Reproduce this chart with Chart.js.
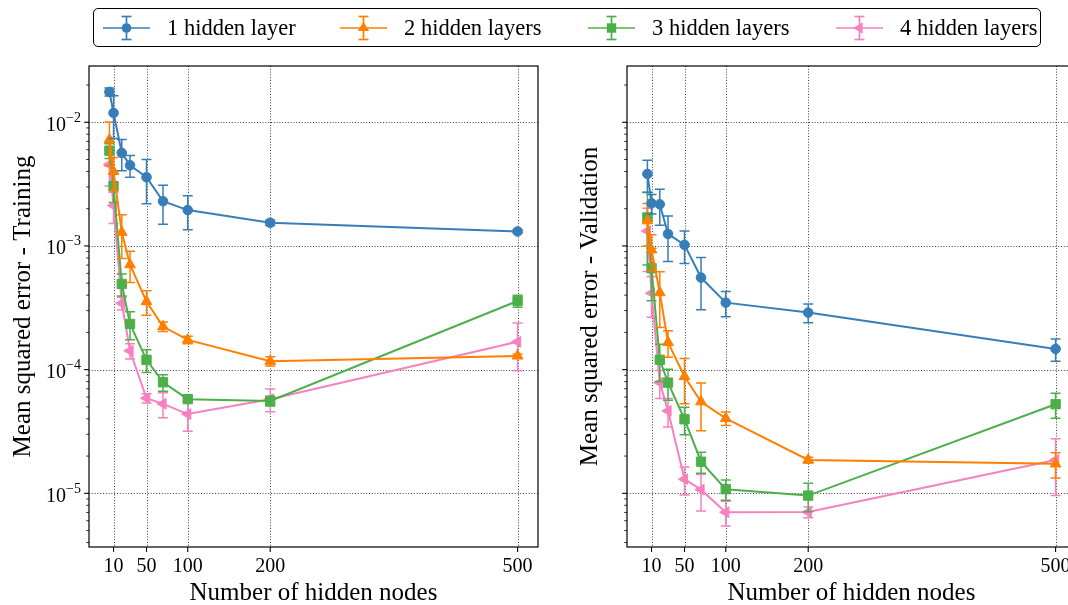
<!DOCTYPE html>
<html>
<head>
<meta charset="utf-8">
<script src="https://cdn.jsdelivr.net/npm/chart.js@4.4.0/dist/chart.umd.min.js"></script>
<style>
  html, body { margin: 0; padding: 0; background: #fff; overflow: hidden; }
  #wrap { position: relative; width: 1068px; height: 605px; overflow: hidden; }
  canvas { position: absolute; top: 0; }
  #trainCanvas { left: 0; }
  #valCanvas { left: 560px; }
  #legend {
    position: absolute; left: 93px; top: 8px; width: 946px; height: 37px;
    border: 1.3px solid #000; border-radius: 5px; background: #fff;
    font-family: "Liberation Serif", serif; font-size: 22.5px; color: #000;
  }
  .item { position: absolute; top: 0; height: 37px; display: flex; align-items: center; white-space: nowrap; }
  .item svg { margin-right: 17px; }
</style>
</head>
<body>
<div id="wrap">
  <canvas id="trainCanvas" width="560" height="605"></canvas>
  <canvas id="valCanvas" width="560" height="605"></canvas>
  <div id="legend"></div>
</div>
<script>
// number of hidden nodes per run
var hiddenNodes = [5, 10, 20, 30, 50, 70, 100, 200, 500];
var xTicks = [10, 50, 100, 200, 500];
var seriesNames = ["1 hidden layer", "2 hidden layers", "3 hidden layers", "4 hidden layers"];

// training MSE (mean) and standard deviation
var trainMse1 = [0.0176, 0.0119, 0.00565, 0.00449, 0.00359, 0.0023, 0.00195, 0.00154, 0.00131];
var trainErr1 = [0.0013, 0.0045, 0.0016, 0.0009, 0.0014, 0.0008, 0.0006, 0.00008, 0.00004];
var trainMse2 = [0.00723, 0.0040, 0.00129, 0.000706, 0.000355, 0.000223, 0.000174, 0.000117, 0.000129];
var trainErr2 = [0.0028, 0.0012, 0.0005, 0.0002, 0.00008, 0.00002, 0.000012, 0.00001, 0.000005];
var trainMse3 = [0.00589, 0.00304, 0.000493, 0.000234, 0.00012, 0.000079, 0.0000577, 0.0000558, 0.000359];
var trainErr3 = [0.0008, 0.0008, 0.0001, 0.00006, 0.000025, 0.000012, 0.000002, 0.000005, 0.00004];
var trainMse4 = [0.00455, 0.00212, 0.000344, 0.000142, 0.0000587, 0.0000529, 0.0000437, 0.0000577, 0.000168];
var trainErr4 = [0.0015, 0.0006, 0.00004, 0.00002, 0.000005, 0.000012, 0.000012, 0.000012, 0.00007];

// validation MSE (mean) and standard deviation
var valMse1 = [0.00382, 0.00221, 0.00217, 0.00125, 0.00102, 0.000555, 0.000348, 0.000289, 0.000147];
var valErr1 = [0.0011, 0.0004, 0.0007, 0.0005, 0.0003, 0.00025, 0.00008, 0.00005, 0.00003];
var valMse2 = [0.0016, 0.00093, 0.000419, 0.000166, 0.000088, 0.000055, 0.0000404, 0.0000186, 0.0000173];
var valErr2 = [0.0006, 0.0003, 0.0002, 0.00004, 0.000035, 0.000023, 0.000005, 0.000001, 0.000004];
var valMse3 = [0.0017, 0.00066, 0.00012, 0.0000785, 0.0000397, 0.000018, 0.0000108, 0.00000958, 0.0000525];
var valErr3 = [0.001, 0.0003, 0.00004, 0.000022, 0.00001, 0.0000035, 0.000002, 0.0000025, 0.000012];
var valMse4 = [0.00132, 0.000415, 0.0000785, 0.0000464, 0.000013, 0.0000107, 0.00000703, 0.00000705, 0.0000186];
var valErr4 = [0.0007, 0.00015, 0.00002, 0.000012, 0.0000033, 0.0000035, 0.0000016, 0.0000007, 0.000009];

var colors = ["#377eb8", "#ff7f00", "#4daf4a", "#f781bf"];
var markers = [
  { style: "circle", radius: 4.8, rotation: 0 },
  { style: "triangle", radius: 6.2, rotation: 0 },
  { style: "rect", radius: 6.6, rotation: 0 },
  { style: "triangle", radius: 6.2, rotation: -90 }
];

var X_MIN = -19.75, X_MAX = 524.75;
var Y_MIN = 3.68e-6, Y_MAX = 0.0285;
var FONT = '"Liberation Serif", serif';

// error bars drawn under each dataset's line and markers
var errorBarPlugin = {
  id: "errorBars",
  beforeDatasetDraw: function (chart, args) {
    var ds = chart.data.datasets[args.index];
    if (!ds.errors) return;
    var ctx = chart.ctx, a = chart.chartArea;
    var xs = chart.scales.x, ys = chart.scales.y;
    ctx.save();
    ctx.beginPath();
    ctx.rect(a.left, a.top, a.right - a.left, a.bottom - a.top);
    ctx.clip();
    ctx.strokeStyle = ds.borderColor;
    ctx.lineWidth = 1.5;
    ds.data.forEach(function (p, i) {
      var e = ds.errors[i];
      var px = xs.getPixelForValue(p.x);
      var top = ys.getPixelForValue(p.y + e);
      var low = p.y - e > 0 ? p.y - e : Y_MIN * 0.5;
      var bot = ys.getPixelForValue(low);
      ctx.beginPath();
      ctx.moveTo(px, top); ctx.lineTo(px, bot);
      ctx.moveTo(px - 5, top); ctx.lineTo(px + 5, top);
      ctx.moveTo(px - 5, bot); ctx.lineTo(px + 5, bot);
      ctx.stroke();
    });
    ctx.restore();
  }
};

// dotted grid, frame, ticks and axis texts
var axesPlugin = {
  id: "mplAxes",
  beforeDatasetsDraw: function (chart) {
    var ctx = chart.ctx, a = chart.chartArea;
    var xs = chart.scales.x, ys = chart.scales.y;
    ctx.save();
    ctx.strokeStyle = "rgba(0,0,0,0.85)";
    ctx.lineWidth = 0.9;
    ctx.setLineDash([1, 1.8]);
    xTicks.forEach(function (v) {
      var px = Math.round(xs.getPixelForValue(v)) + 0.5;
      ctx.beginPath(); ctx.moveTo(px, a.top); ctx.lineTo(px, a.bottom); ctx.stroke();
    });
    for (var e = -6; e <= -1; e++) {
      var v = Math.pow(10, e);
      if (v < Y_MIN || v > Y_MAX) continue;
      var py = Math.round(ys.getPixelForValue(v)) + 0.5;
      ctx.beginPath(); ctx.moveTo(a.left, py); ctx.lineTo(a.right, py); ctx.stroke();
    }
    ctx.restore();
  },
  afterDraw: function (chart, args, opts) {
    var ctx = chart.ctx, a = chart.chartArea;
    var xs = chart.scales.x, ys = chart.scales.y;
    ctx.save();
    ctx.strokeStyle = "#000";
    ctx.fillStyle = "#000";
    ctx.lineWidth = 1.2;
    ctx.strokeRect(a.left, a.top, a.right - a.left, a.bottom - a.top);

    // x ticks and labels
    ctx.font = "20px " + FONT;
    ctx.textAlign = "center";
    ctx.textBaseline = "alphabetic";
    ctx.lineWidth = 1.1;
    xTicks.forEach(function (v) {
      var px = xs.getPixelForValue(v);
      ctx.beginPath(); ctx.moveTo(px, a.bottom); ctx.lineTo(px, a.bottom + 4.9); ctx.stroke();
      ctx.fillText(String(v), px, a.bottom + 25);
    });

    // y ticks (major at decades, minor in between)
    for (var e = -7; e <= -1; e++) {
      for (var k = 1; k <= 9; k++) {
        var v = k * Math.pow(10, e);
        if (v < Y_MIN || v > Y_MAX) continue;
        var py = ys.getPixelForValue(v);
        var major = k === 1;
        ctx.lineWidth = major ? 1.1 : 0.8;
        ctx.beginPath(); ctx.moveTo(a.left - (major ? 4.9 : 2.8), py); ctx.lineTo(a.left, py); ctx.stroke();
        if (major && opts.tickLabels) {
          var sup = "\u2212" + Math.abs(e);
          ctx.font = "14px " + FONT;
          var ws = ctx.measureText(sup).width;
          ctx.textAlign = "left";
          ctx.fillText(sup, a.left - 8 - ws, py - 0.5);
          ctx.font = "20px " + FONT;
          ctx.textAlign = "right";
          ctx.fillText("10", a.left - 8 - ws, py + 8.4);
        }
      }
    }

    // axis titles
    ctx.font = "25px " + FONT;
    ctx.textAlign = "center";
    ctx.fillText(opts.xTitle, (a.left + a.right) / 2, a.bottom + 53);
    ctx.translate(a.left - opts.yTitleOffset, (a.top + a.bottom) / 2);
    ctx.rotate(-Math.PI / 2);
    ctx.fillText(opts.yTitle, 0, 0);
    ctx.restore();
  }
};

function buildDatasets(means, errs) {
  return means.map(function (vals, i) {
    return {
      label: seriesNames[i],
      data: hiddenNodes.map(function (n, j) { return { x: n, y: vals[j] }; }),
      errors: errs[i],
      borderColor: colors[i],
      backgroundColor: colors[i],
      borderWidth: 2,
      tension: 0,
      pointStyle: markers[i].style,
      pointRadius: markers[i].radius,
      pointRotation: markers[i].rotation,
      pointBackgroundColor: colors[i],
      pointBorderColor: colors[i],
      pointBorderWidth: 1
    };
  });
}

function makeChart(id, means, errs, padding, axisOpts) {
  var ctx = document.getElementById(id).getContext("2d");
  return new Chart(ctx, {
    type: "line",
    data: { datasets: buildDatasets(means, errs) },
    options: {
      responsive: false,
      animation: false,
      events: [],
      devicePixelRatio: 1,
      layout: { padding: padding },
      scales: {
        x: { type: "linear", min: X_MIN, max: X_MAX, display: false, bounds: "data" },
        y: { type: "logarithmic", min: Y_MIN, max: Y_MAX, display: false, bounds: "data" }
      },
      plugins: {
        legend: { display: false },
        tooltip: { enabled: false },
        mplAxes: axisOpts
      }
    },
    plugins: [errorBarPlugin, axesPlugin]
  });
}

makeChart("trainCanvas",
  [trainMse1, trainMse2, trainMse3, trainMse4],
  [trainErr1, trainErr2, trainErr3, trainErr4],
  { left: 89, right: 22, top: 66, bottom: 58 },
  { xTitle: "Number of hidden nodes", yTitle: "Mean squared error - Training", yTitleOffset: 59.5, tickLabels: true });

makeChart("valCanvas",
  [valMse1, valMse2, valMse3, valMse4],
  [valErr1, valErr2, valErr3, valErr4],
  { left: 67, right: 44, top: 66, bottom: 58 },
  { xTitle: "Number of hidden nodes", yTitle: "Mean squared error - Validation", yTitleOffset: 30, tickLabels: false });

// legend with errorbar handles
var legendLeft = [9, 246, 494, 742];
var legend = document.getElementById("legend");
var shapes = [
  '<circle cx="23.5" cy="15" r="4.8" />',
  '<polygon points="23.5,8.8 29.2,18.1 17.8,18.1" />',
  '<rect x="18.8" y="10.3" width="9.4" height="9.4" />',
  '<polygon points="17.3,15 26.6,9.3 26.6,20.7" />'
];
seriesNames.forEach(function (name, i) {
  var c = colors[i];
  var item = document.createElement("div");
  item.className = "item";
  item.style.left = legendLeft[i] + "px";
  item.innerHTML =
    '<svg width="47" height="30" viewBox="0 0 47 30">' +
    '<g stroke="' + c + '" stroke-width="1.7" fill="none">' +
    '<line x1="0" y1="15" x2="47" y2="15" />' +
    '<line x1="23.5" y1="3.5" x2="23.5" y2="26.5" />' +
    '<line x1="18.5" y1="3.5" x2="28.5" y2="3.5" />' +
    '<line x1="18.5" y1="26.5" x2="28.5" y2="26.5" /></g>' +
    '<g fill="' + c + '">' + shapes[i] + '</g></svg>' +
    '<span>' + name + '</span>';
  legend.appendChild(item);
});
</script>
</body>
</html>
